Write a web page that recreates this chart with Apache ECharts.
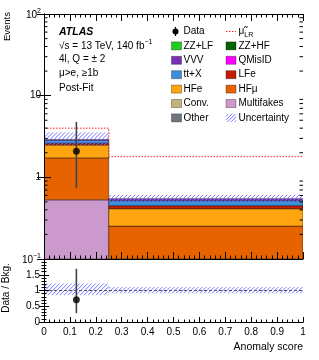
<!DOCTYPE html>
<html><head><meta charset="utf-8">
<script src="https://cdn.jsdelivr.net/npm/echarts@6/dist/echarts.min.js"></script>
<style>html,body{margin:0;padding:0;background:#fff}#c{width:319px;height:360px}</style>
</head><body><div id="c"></div>
<script>
// ---------------- data ----------------
const binEdges = [0, 0.25, 1];
// stack order, bottom to top
const processNames  = ['Other', 'Multifakes', 'Conv.', 'HFμ', 'HFe', 'LFe', 'QMisID', 'tt+X', 'VVV', 'ZZ+HF', 'ZZ+LF'];
const processColors = ['#6e7581', '#cc99cc', '#c2b27c', '#e66300', '#ffa50f', '#c21d00', '#ff00ff', '#3e8fdb', '#7b2fb3', '#006400', '#1fcc1f'];
const otherYield      = [0.0, 0.0];
const multifakesYield = [0.53, 0.0];
const convYield       = [0.0, 0.0];
const hfmuYield       = [1.20, 0.253];
const hfeYield        = [0.76, 0.160];
const lfeYield        = [0.12, 0.037];
const qmisidYield     = [0.0, 0.0];
const ttxYield        = [0.24, 0.068];
const vvvYield        = [0.04, 0.030];
const zzhfYield       = [0.0, 0.0];
const zzlfYield       = [0.0, 0.0];
const uncLow   = [2.45, 0.50];
const uncHigh  = [3.55, 0.61];
const muLR     = [4.0, 1.79];
const dataX    = [0.125];
const dataY    = [2.08];
const dataLow  = [0.74];
const dataHigh = [4.77];
const ratioY    = [0.705];
const ratioLow  = [0.28];
const ratioHigh = [1.69];
const ratioUncLow  = [0.85, 0.91];
const ratioUncHigh = [1.22, 1.11];
const mainYTicks  = [0.1, 1, 10, 100];
const ratioYTicks = [0, 0.5, 1, 1.5, 2];
const legendLeft  = ['Data', 'ZZ+LF', 'VVV', 'tt+X', 'HFe', 'Conv.', 'Other'];
const legendRight = ['muLR', 'ZZ+HF', 'QMisID', 'LFe', 'HFμ', 'Multifakes', 'Uncertainty'];

// ---------------- helpers ----------------
const yields = [otherYield, multifakesYield, convYield, hfmuYield, hfeYield, lfeYield, qmisidYield, ttxYield, vvvYield, zzhfYield, zzlfYield];
const FONT = 'Liberation Sans';
const HATCH = '#7474ff';
const Y_MIN = mainYTicks[0], Y_MAX = mainYTicks[mainYTicks.length - 1];

// diagonal "///" hatch lines clipped to a rectangle
function hatchLines(x, y, w, h, step){
  const out = [];
  const start = Math.floor((x - h) / step) * step;
  for (let c = start; c < x + w; c += step) {
    const t0 = Math.max(c, x), t1 = Math.min(c + h, x + w);
    if (t1 <= t0) continue;
    out.push({type: 'line', shape: {x1: t0, y1: y + h - (t0 - c), x2: t1, y2: y + h - (t1 - c)},
      style: {stroke: HATCH, lineWidth: 1}});
  }
  return out;
}

function rectRender(clampMin, fill){
  return function(params, api){
    const x0 = api.value(0), x1 = api.value(1);
    let lo = api.value(2), hi = api.value(3);
    if (clampMin !== null) { lo = Math.max(lo, clampMin); if (hi <= clampMin) return null; }
    const p0 = api.coord([x0, hi]), p1 = api.coord([x1, lo]);
    const x = p0[0], y = p0[1], w = p1[0] - p0[0], h = p1[1] - p0[1];
    if (fill === 'hatch') return {type: 'group', children: hatchLines(x, y, w, h, 4)};
    return {type: 'rect', shape: {x, y, width: w, height: h},
            style: {fill, stroke: 'rgba(0,0,0,0.55)', lineWidth: 0.8}};
  };
}

const series = [];
const cum = binEdges.slice(0, -1).map(() => 0);
processNames.forEach((name, k) => {
  const d = [];
  for (let b = 0; b < cum.length; b++) {
    const v = yields[k][b];
    if (v > 0) d.push([binEdges[b], binEdges[b + 1], cum[b], cum[b] + v]);
    cum[b] += v;
  }
  series.push({
    name, type: 'custom', xAxisIndex: 0, yAxisIndex: 0, clip: true, silent: true, z: 2,
    renderItem: rectRender(Y_MIN, processColors[k]),
    encode: {x: [0, 1], y: [2, 3]},
    data: d
  });
});

// uncertainty band (main)
series.push({
  name: 'Uncertainty', type: 'custom', xAxisIndex: 0, yAxisIndex: 0, clip: true, silent: true, z: 3,
  renderItem: rectRender(Y_MIN, 'hatch'),
  encode: {x: [0, 1], y: [2, 3]},
  data: uncLow.map((lo, b) => [binEdges[b], binEdges[b + 1], lo, uncHigh[b]])
});

// mu LR step line
const muPts = [];
muLR.forEach((v, b) => { muPts.push([binEdges[b], v]); muPts.push([binEdges[b + 1], v]); });
series.push({
  name: 'muLR', type: 'line', xAxisIndex: 0, yAxisIndex: 0, data: muPts, symbol: 'none', silent: true, z: 4,
  lineStyle: {color: '#ff2020', width: 1, type: [1.5, 1.5]}
});

// data error bars + points (main)
function errRender(params, api){
  const x = api.value(0);
  const a = api.coord([x, api.value(1)]), b = api.coord([x, api.value(2)]);
  return {type: 'line', shape: {x1: a[0], y1: a[1], x2: b[0], y2: b[1]}, style: {stroke: '#444', lineWidth: 1.6}};
}
series.push({
  name: 'DataErr', type: 'custom', xAxisIndex: 0, yAxisIndex: 0, silent: true, z: 5, clip: true,
  renderItem: errRender, encode: {x: 0, y: [1, 2]},
  data: dataX.map((x, i) => [x, dataLow[i], dataHigh[i]])
});
series.push({
  name: 'Data', type: 'scatter', xAxisIndex: 0, yAxisIndex: 0, silent: true, z: 6,
  symbol: 'circle', symbolSize: 7, itemStyle: {color: '#000'},
  data: dataX.map((x, i) => [x, dataY[i]])
});

// log minor ticks (main panel, left & right)
const minorLog = [];
for (let e = Math.round(Math.log10(Y_MIN)); e < Math.round(Math.log10(Y_MAX)); e++)
  for (let m = 2; m <= 9; m++) minorLog.push([m * Math.pow(10, e)]);
series.push({
  name: 'logMinor', type: 'custom', xAxisIndex: 0, yAxisIndex: 0, silent: true, z: 20,
  renderItem: function(params, api){
    const v = api.value(0);
    const l = api.coord([binEdges[0], v]), r = api.coord([binEdges[binEdges.length - 1], v]);
    return {type: 'group', children: [
      {type: 'line', shape: {x1: l[0], y1: l[1], x2: l[0] + 3.5, y2: l[1]}, style: {stroke: '#000', lineWidth: 1}},
      {type: 'line', shape: {x1: r[0], y1: r[1], x2: r[0] - 3.5, y2: r[1]}, style: {stroke: '#000', lineWidth: 1}}
    ]};
  },
  encode: {y: 0}, data: minorLog
});

// ratio band
series.push({
  name: 'RatioUnc', type: 'custom', xAxisIndex: 2, yAxisIndex: 2, clip: true, silent: true, z: 3,
  renderItem: rectRender(null, 'hatch'),
  encode: {x: [0, 1], y: [2, 3]},
  data: ratioUncLow.map((lo, b) => [binEdges[b], binEdges[b + 1], lo, ratioUncHigh[b]])
});
series.push({
  name: 'RatioOne', type: 'line', xAxisIndex: 2, yAxisIndex: 2, symbol: 'none', silent: true, z: 4,
  data: [[binEdges[0], 1], [binEdges[binEdges.length - 1], 1]],
  lineStyle: {color: '#555', width: 1, type: [3, 2]}
});
series.push({
  name: 'RatioErr', type: 'custom', xAxisIndex: 2, yAxisIndex: 2, silent: true, z: 5, clip: true,
  renderItem: errRender, encode: {x: 0, y: [1, 2]},
  data: dataX.map((x, i) => [x, ratioLow[i], ratioHigh[i]])
});
series.push({
  name: 'RatioData', type: 'scatter', xAxisIndex: 2, yAxisIndex: 2, silent: true, z: 6,
  symbol: 'circle', symbolSize: 7, itemStyle: {color: '#000'},
  data: dataX.map((x, i) => [x, ratioY[i]])
});

// ---------------- axes ----------------
const axLine = {show: true, lineStyle: {color: '#000', width: 1}};
function xAx(grid, pos, labels, tl, ml){
  return {type: 'value', gridIndex: grid, position: pos, min: binEdges[0], max: binEdges[binEdges.length - 1], interval: 0.1,
    z: 10, axisLine: axLine, splitLine: {show: false},
    axisTick: {show: true, inside: true, length: tl, lineStyle: {color: '#000'}},
    minorTick: {show: true, splitNumber: 5, length: ml, lineStyle: {color: '#000'}},
    axisLabel: labels ? {show: true, fontFamily: FONT, fontSize: 10, color: '#000', margin: 5,
      formatter: v => String(Math.round(v * 10) / 10)} : {show: false}};
}
const xAxis = [
  xAx(0, 'bottom', false, 7, 3.5),
  xAx(0, 'top', false, 7, 3.5),
  Object.assign(xAx(1, 'bottom', true, 5, 2.5), {
    name: 'Anomaly score', nameLocation: 'end', nameGap: 0,
    nameTextStyle: {fontFamily: FONT, fontSize: 10.5, color: '#000', align: 'right', verticalAlign: 'top', padding: [20, 0, 0, 0]}}),
  xAx(1, 'top', false, 5, 2.5)
];
xAxis[3].axisTick.show = false; xAxis[3].minorTick.show = false;

const supRich = {
  b: {fontFamily: FONT, fontSize: 10, color: '#000', verticalAlign: 'bottom'},
  s: {fontFamily: FONT, fontSize: 7, color: '#000', verticalAlign: 'bottom', padding: [0, 0, 5, 0]}
};
function logAx(pos, labels){
  return {type: 'log', logBase: 10, gridIndex: 0, position: pos, min: Y_MIN, max: Y_MAX, z: 10,
    axisLine: axLine, splitLine: {show: false},
    axisTick: {show: true, inside: true, length: 7, lineStyle: {color: '#000'}},
    axisLabel: labels ? {show: true, margin: 3, showMinLabel: true, showMaxLabel: true,
      formatter: v => { const e = Math.round(Math.log10(v)); if (e === 0) return '{b|1}'; if (e === 1) return '{b|10}';
        return '{b|10}{s|' + (e < 0 ? '\u2212' + (-e) : e) + '}'; },
      rich: supRich} : {show: false}};
}
function ratioAx(pos, labels){
  return {type: 'value', gridIndex: 1, position: pos, min: ratioYTicks[0], max: ratioYTicks[ratioYTicks.length - 1], interval: 0.5, z: 10,
    axisLine: axLine, splitLine: {show: false},
    axisTick: {show: true, inside: true, length: 5, lineStyle: {color: '#000'}},
    minorTick: {show: true, splitNumber: 5, length: 2.5, lineStyle: {color: '#000'}},
    axisLabel: labels ? {show: true, margin: 4, fontFamily: FONT, fontSize: 10, color: '#000', showMaxLabel: true,
      formatter: v => (v === ratioYTicks[ratioYTicks.length - 1] ? '' : String(v))} : {show: false}};
}
const yAxis = [logAx('left', true), logAx('right', false), ratioAx('left', true), ratioAx('right', false)];
xAxis.forEach((a, i) => { a.gridIndex = i < 2 ? 0 : 1; });
yAxis[1].gridIndex = 0; yAxis[2].gridIndex = 1; yAxis[3].gridIndex = 1;

// ---------------- text + legend ----------------
const graphic = [];
const txt = (x, y, text, extra) => graphic.push(Object.assign({type: 'text', x, y,
  style: Object.assign({text, fontFamily: FONT, fontSize: 10, fill: '#000', verticalAlign: 'middle'}, extra || {})}));
graphic.push({type: 'text', x: 7, y: 12, rotation: Math.PI / 2,
  style: {text: 'Events', fontFamily: FONT, fontSize: 9.5, fill: '#000', align: 'right', verticalAlign: 'middle'}});
graphic.push({type: 'text', x: 6, y: 288, rotation: Math.PI / 2,
  style: {text: 'Data / Bkg.', fontFamily: FONT, fontSize: 10, fill: '#000', align: 'center', verticalAlign: 'middle'}});
txt(59, 32, 'ATLAS', {fontWeight: 'bold', fontStyle: 'italic', fontSize: 10.5});
txt(59, 45, '{b|\u221As = 13 TeV, 140 fb}{s|\u22121}', {rich: {
  b: {fontFamily: FONT, fontSize: 10, verticalAlign: 'bottom'},
  s: {fontFamily: FONT, fontSize: 7, verticalAlign: 'bottom', padding: [0, 0, 5, 0]}}});
txt(59, 59, '4l, Q = \u00B1 2');
txt(59, 73, '\u03BC>e, \u22651b');
txt(59, 88, 'Post-Fit');

const colorOf = n => processColors[processNames.indexOf(n)];
function legendEntry(name, sx, tx, y){
  if (name === 'Data') {
    graphic.push({type: 'line', shape: {x1: sx + 4, y1: y - 4.5, x2: sx + 4, y2: y + 4.5}, style: {stroke: '#000', lineWidth: 1.2}});
    graphic.push({type: 'circle', shape: {cx: sx + 4, cy: y, r: 3}, style: {fill: '#000'}});
    txt(tx, y, name);
  } else if (name === 'muLR') {
    graphic.push({type: 'line', shape: {x1: sx, y1: y, x2: sx + 10, y2: y}, style: {stroke: '#ff2020', lineWidth: 1, lineDash: [1.5, 1.5]}});
    txt(tx, y + 1, '{m|\u03BC\u0303}{l|LR}', {rich: {
      m: {fontFamily: FONT, fontSize: 10, verticalAlign: 'top'},
      l: {fontFamily: FONT, fontSize: 7, verticalAlign: 'top', padding: [5, 0, 0, 0]}}});
  } else if (name === 'Uncertainty') {
    hatchLines(sx, y - 4, 10, 8, 3.5).forEach(g => graphic.push(g));
    txt(tx, y, name);
  } else {
    graphic.push({type: 'rect', shape: {x: sx, y: y - 4, width: 10, height: 8}, style: {fill: colorOf(name), stroke: 'rgba(0,0,0,0.45)', lineWidth: 0.7}});
    txt(tx, y, name);
  }
}
legendLeft.forEach((n, i) => legendEntry(n, 171.5, 183.5, 31.5 + i * 14.4));
legendRight.forEach((n, i) => legendEntry(n, 226, 238.5, 31.5 + i * 14.4));

const chart = echarts.init(document.getElementById('c'), null, {renderer: 'canvas'});
chart.setOption({
  animation: false,
  backgroundColor: '#fff',
  grid: [
    {left: 44, right: 16, top: 14, height: 245, containLabel: false},
    {left: 44, right: 16, top: 259, height: 63, containLabel: false}
  ],
  xAxis,
  yAxis,
  series,
  graphic
});
</script></body></html>
